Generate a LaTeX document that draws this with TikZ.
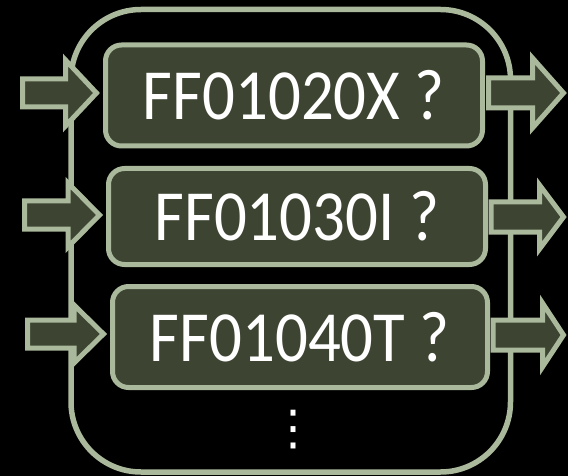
\documentclass[tikz,border=0pt]{standalone}
\usepackage{fontspec}
\newfontfamily\boxfont[FakeStretch=0.9]{Carlito}
\newfontfamily\dotsfont{DejaVu Sans}
\definecolor{frameline}{RGB}{170,184,155}
\definecolor{boxfill}{RGB}{61,69,50}

\begin{document}
\begin{tikzpicture}[x=1pt, y=-1pt,
  box/.style={draw=frameline, fill=boxfill, line width=5pt, rounded corners=16pt,
    inner sep=0pt, text=white, font=\boxfont\fontsize{72}{72}\selectfont},
  blockarrow/.style={draw=frameline, fill=boxfill, line width=5pt, miter limit=10}]

\fill[black] (0,0) rectangle (568,476);
\useasboundingbox (0,0) rectangle (568,476);

% outer frame
\draw[frameline, line width=5.5pt, rounded corners=70pt] (71,9.5) rectangle (510.5,472);

% question boxes
\node[box, minimum width=377pt, minimum height=101pt] (box1) at (294,95.5) {FF01020X ?};
\node[box, minimum width=377pt, minimum height=96pt] (box2) at (297,216.5) {FF01030I ?};
\node[box, minimum width=375pt, minimum height=101pt] (box3) at (300,337) {FF01040T ?};

% block arrows: tail / head base / tip / centre / shaft half / head half
\foreach \tail/\base/\tip/\cy/\sh/\hh in {
  22.5/65.5/96.5/93/14/33, 24.5/68/99.5/215/14/32, 27.5/74/103.5/334/14/29,
  488.5/532.5/563.5/93/15/35, 491/539.5/563.5/217/15/32, 493/542.5/563.5/335/15/32} {
  \draw[blockarrow] (\tail,\cy-\sh) -- (\base,\cy-\sh) -- (\base,\cy-\hh) -- (\tip,\cy)
    -- (\base,\cy+\hh) -- (\base,\cy+\sh) -- (\tail,\cy+\sh) -- cycle;
}

% more to come
\node[text=white, font=\dotsfont\fontsize{48}{48}\selectfont] (more) at (293,430) {⋮};

\end{tikzpicture}
\end{document}
